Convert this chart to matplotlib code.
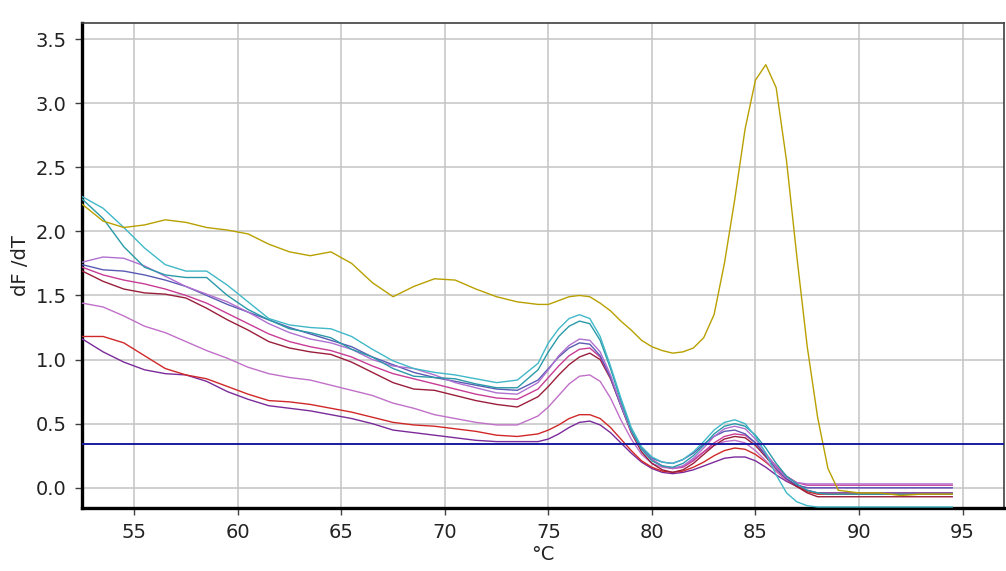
import matplotlib
matplotlib.use("Agg")
import matplotlib.pyplot as plt

temps = [52.5, 53.5, 54.5, 55.5, 56.5, 57.5, 58.5, 59.5, 60.5, 61.5, 62.5, 63.5, 64.5,
         65.5, 66.5, 67.5, 68.5, 69.5, 70.5, 71.5, 72.5, 73.5, 74.5,
         75, 75.5, 76, 76.5, 77, 77.5, 78, 78.5, 79, 79.5, 80, 80.5, 81, 81.5, 82, 82.5,
         83, 83.5, 84, 84.5, 85, 85.5, 86, 86.5, 87, 87.5, 88, 88.5, 89,
         90, 91, 92, 93, 94, 94.5]

yellow = [2.21, 2.08, 2.03, 2.05, 2.09, 2.07, 2.03, 2.01, 1.98, 1.90, 1.84, 1.81, 1.84,
          1.75, 1.60, 1.49, 1.57, 1.63, 1.62, 1.55, 1.49, 1.45, 1.43,
          1.43, 1.46, 1.49, 1.50, 1.49, 1.44, 1.38, 1.30, 1.23, 1.15, 1.10, 1.07, 1.05, 1.06, 1.09, 1.17,
          1.35, 1.75, 2.25, 2.80, 3.18, 3.30, 3.12, 2.55, 1.80, 1.10, 0.55, 0.15, -0.02,
          -0.04, -0.04, -0.06, -0.05, -0.05, -0.05]

teal_a = [2.27, 2.18, 2.03, 1.87, 1.74, 1.69, 1.69, 1.58, 1.45, 1.32, 1.27, 1.25, 1.24,
          1.18, 1.08, 0.99, 0.93, 0.90, 0.88, 0.85, 0.82, 0.84, 0.97,
          1.13, 1.24, 1.32, 1.35, 1.32, 1.18, 0.95, 0.70, 0.47, 0.32, 0.24, 0.20, 0.19, 0.22, 0.28, 0.36,
          0.45, 0.51, 0.53, 0.50, 0.40, 0.27, 0.10, -0.04, -0.11, -0.14, -0.15, -0.15, -0.15,
          -0.15, -0.15, -0.15, -0.15, -0.15, -0.15]

teal_b = [2.25, 2.10, 1.88, 1.72, 1.66, 1.64, 1.64, 1.50, 1.39, 1.31, 1.24, 1.21, 1.17,
          1.08, 1.02, 0.93, 0.87, 0.86, 0.85, 0.81, 0.78, 0.78, 0.92,
          1.06, 1.18, 1.26, 1.30, 1.28, 1.15, 0.93, 0.68, 0.45, 0.30, 0.21, 0.17, 0.16, 0.19, 0.25, 0.33,
          0.42, 0.48, 0.50, 0.48, 0.41, 0.31, 0.19, 0.09, 0.03, -0.02, -0.04, -0.05, -0.05,
          -0.05, -0.05, -0.05, -0.05, -0.05, -0.05]

violet = [1.76, 1.80, 1.79, 1.73, 1.65, 1.57, 1.51, 1.45, 1.37, 1.28, 1.21, 1.16, 1.13,
          1.08, 1.00, 0.95, 0.93, 0.88, 0.82, 0.78, 0.74, 0.73, 0.82,
          0.92, 1.03, 1.11, 1.16, 1.15, 1.06, 0.88, 0.65, 0.44, 0.30, 0.22, 0.17, 0.15, 0.17, 0.23, 0.31,
          0.40, 0.46, 0.48, 0.46, 0.38, 0.27, 0.16, 0.08, 0.04, 0.03, 0.03, 0.03, 0.03,
          0.03, 0.03, 0.03, 0.03, 0.03, 0.03]

blue_violet = [1.74, 1.70, 1.69, 1.66, 1.62, 1.57, 1.50, 1.43, 1.37, 1.31, 1.25, 1.20, 1.15,
               1.10, 1.02, 0.96, 0.90, 0.86, 0.83, 0.80, 0.77, 0.76, 0.84,
               0.93, 1.02, 1.09, 1.13, 1.12, 1.03, 0.86, 0.64, 0.44, 0.31, 0.23, 0.20, 0.19, 0.22, 0.27, 0.34,
               0.40, 0.44, 0.45, 0.42, 0.35, 0.25, 0.15, 0.07, 0.02, 0.00, 0.00, 0.00, 0.00,
               0.00, 0.00, 0.00, 0.00, 0.00, 0.00]

magenta = [1.72, 1.66, 1.62, 1.59, 1.55, 1.50, 1.44, 1.36, 1.28, 1.20, 1.14, 1.10, 1.07,
           1.02, 0.95, 0.89, 0.85, 0.81, 0.77, 0.73, 0.70, 0.69, 0.77,
           0.86, 0.95, 1.03, 1.08, 1.09, 1.02, 0.86, 0.65, 0.45, 0.31, 0.22, 0.17, 0.15, 0.16, 0.21, 0.28,
           0.35, 0.40, 0.42, 0.41, 0.35, 0.26, 0.17, 0.09, 0.04, 0.02, 0.02, 0.02, 0.02,
           0.02, 0.02, 0.02, 0.02, 0.02, 0.02]

dark_red = [1.69, 1.61, 1.55, 1.52, 1.51, 1.48, 1.40, 1.31, 1.23, 1.14, 1.09, 1.06, 1.04,
            0.98, 0.90, 0.82, 0.77, 0.76, 0.72, 0.68, 0.65, 0.63, 0.71,
            0.79, 0.88, 0.96, 1.02, 1.05, 1.00, 0.85, 0.64, 0.43, 0.28, 0.19, 0.14, 0.12, 0.14, 0.19, 0.26,
            0.33, 0.38, 0.40, 0.39, 0.33, 0.24, 0.15, 0.07, 0.01, -0.04, -0.07, -0.07, -0.07,
            -0.07, -0.07, -0.07, -0.07, -0.07, -0.07]

pink = [1.44, 1.41, 1.34, 1.26, 1.21, 1.14, 1.07, 1.01, 0.94, 0.89, 0.86, 0.84, 0.80,
        0.76, 0.72, 0.66, 0.62, 0.57, 0.54, 0.51, 0.49, 0.49, 0.56,
        0.63, 0.72, 0.81, 0.87, 0.88, 0.83, 0.70, 0.53, 0.38, 0.26, 0.19, 0.16, 0.15, 0.17, 0.22, 0.28,
        0.33, 0.36, 0.37, 0.35, 0.29, 0.21, 0.13, 0.06, 0.02, 0.00, 0.00, 0.00, 0.00,
        0.00, 0.00, 0.00, 0.00, 0.00, 0.00]

red = [1.18, 1.18, 1.13, 1.03, 0.93, 0.88, 0.85, 0.79, 0.73, 0.68, 0.67, 0.65, 0.62,
       0.59, 0.55, 0.51, 0.49, 0.48, 0.46, 0.44, 0.41, 0.40, 0.42,
       0.45, 0.49, 0.54, 0.57, 0.57, 0.54, 0.47, 0.38, 0.29, 0.21, 0.16, 0.13, 0.12, 0.13, 0.16, 0.20,
       0.25, 0.29, 0.31, 0.30, 0.26, 0.20, 0.13, 0.06, 0.01, -0.03, -0.05, -0.05, -0.05,
       -0.05, -0.05, -0.05, -0.05, -0.05, -0.05]

purple = [1.16, 1.06, 0.98, 0.92, 0.89, 0.88, 0.83, 0.75, 0.69, 0.64, 0.62, 0.60, 0.57,
          0.54, 0.50, 0.45, 0.43, 0.41, 0.39, 0.37, 0.36, 0.36, 0.36,
          0.38, 0.42, 0.47, 0.51, 0.52, 0.49, 0.43, 0.35, 0.27, 0.20, 0.15, 0.12, 0.11, 0.12, 0.14, 0.17,
          0.20, 0.23, 0.24, 0.24, 0.21, 0.16, 0.10, 0.05, 0.01, -0.02, -0.04, -0.04, -0.04,
          -0.04, -0.04, -0.04, -0.04, -0.04, -0.04]

threshold = 0.342

x_ticks = [55, 60, 65, 70, 75, 80, 85, 90, 95]
y_ticks = [0.0, 0.5, 1.0, 1.5, 2.0, 2.5, 3.0, 3.5]

series = [
    (purple, "#7a2a9a"),
    (red, "#d02828"),
    (pink, "#c070c8"),
    (dark_red, "#9a1e3c"),
    (magenta, "#c83c96"),
    (blue_violet, "#5a5ab4"),
    (violet, "#b070d0"),
    (teal_b, "#2a9aa8"),
    (teal_a, "#40b8c8"),
    (yellow, "#b8a000"),
]

plt.rcParams['font.family'] = ['DejaVu Sans']
fig = plt.figure(figsize=(10.06, 5.71), dpi=100)
ax = fig.add_axes([0.0815, 0.1103, 0.9165, 0.8494])

for vals, col in series:
    ax.plot(temps, vals, color=col, lw=1.0, zorder=3)

ax.axhline(threshold, color="#1a1aa0", lw=1.4, zorder=4)

ax.set_xlim(52.48, 97.0)
ax.set_ylim(-0.158, 3.625)
ax.set_xticks(x_ticks)
ax.set_yticks(y_ticks)
ax.set_xticklabels([str(t) for t in x_ticks])
ax.set_yticklabels([f"{t:.1f}" for t in y_ticks])
ax.grid(True, color="#c4c4c4", lw=1.1, zorder=0)
ax.set_axisbelow(True)

ax.tick_params(axis="both", direction="out", length=5, width=1, color="#404040",
               labelsize=14, labelcolor="#222222", pad=6)

for side in ("left", "bottom"):
    ax.spines[side].set_linewidth(2.4)
    ax.spines[side].set_color("black")
for side in ("top", "right"):
    ax.spines[side].set_linewidth(1.2)
    ax.spines[side].set_color("#404040")

ax.set_xlabel("°C", fontsize=14, color="#222222", labelpad=2)
ax.set_ylabel("dF /dT", fontsize=14, color="#222222", labelpad=4)

fig.savefig("out.png", dpi=100)
